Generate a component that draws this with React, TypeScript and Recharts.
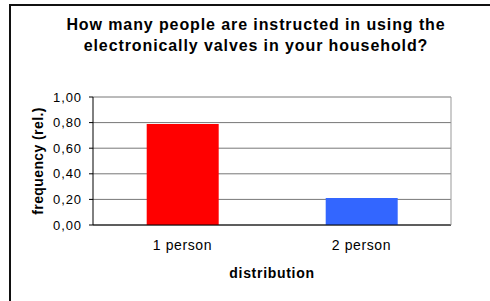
import { BarChart, Bar, Cell, XAxis, YAxis, CartesianGrid } from "recharts";

const categories = ["1 person", "2 person"];
const frequency = [0.79, 0.21];
const barColors = ["#FF0000", "#3366FF"];
const yTicks = [0, 0.2, 0.4, 0.6, 0.8, 1];
const edgeTicks = [0, 1, 2];

const data = categories.map((name, i) => ({ name, value: frequency[i] }));

const FONT = '"Liberation Sans", Arial, sans-serif';

const fmt = (v: number) => v.toFixed(2).replace(".", ",");

// rotated y-axis title, centred on the plot height
const YTitle = (props: any) => {
  const vb = props.viewBox;
  const x = vb.x + 29;
  const y = vb.y + vb.height / 2;
  return (
    <text
      x={x}
      y={y}
      transform={`rotate(-90, ${x}, ${y})`}
      textAnchor="middle"
      dominantBaseline="central"
      fontFamily={FONT}
      fontWeight="bold"
      fontSize={14}
      letterSpacing={0.4}
      fill="#000"
    >
      frequency (rel.)
    </text>
  );
};

export default function App() {
  return (
    <div style={{ position: "absolute", left: 0, top: 0, width: 490, height: 301, overflow: "hidden", background: "#fff" }}>
      <div
        style={{
          position: "absolute",
          left: 9,
          top: 4,
          width: 600,
          height: 400,
          borderLeft: "2px solid #111",
          borderTop: "2px solid #111",
        }}
      />
      <div
        style={{
          position: "absolute",
          left: 0,
          top: 14,
          width: 512,
          textAlign: "center",
          fontFamily: FONT,
          fontWeight: "bold",
          fontSize: 16,
          lineHeight: "21px",
          letterSpacing: "0.9px",
          color: "#000",
        }}
      >
        How many people are instructed in using the
        <br />
        electronically valves in your household?
      </div>
      <div style={{ position: "absolute", left: 0, top: 0 }}>
        <BarChart
          width={490}
          height={301}
          data={data}
          barCategoryGap="30%"
          margin={{ top: 97, right: 38, bottom: 19, left: 9 }}
        >
          <CartesianGrid vertical={false} stroke="#777" xAxisId="cat" yAxisId="l" />
          <XAxis
            xAxisId="edge"
            type="number"
            domain={[0, 2]}
            ticks={edgeTicks}
            allowDataOverflow
            height={1}
            axisLine={false}
            tick={false}
            tickLine={{ stroke: "#000" }}
            tickSize={4}
          />
          <XAxis
            xAxisId="cat"
            dataKey="name"
            height={56}
            tickLine={false}
            axisLine={{ stroke: "#000" }}
            tickMargin={9}
            tick={{ fontFamily: FONT, fontSize: 14, fill: "#000", letterSpacing: 0.6 }}
            label={{
              value: "distribution",
              position: "insideBottom",
              offset: 3,
              fontFamily: FONT,
              fontWeight: "bold",
              fontSize: 14,
              letterSpacing: 0.7,
              fill: "#000",
            }}
          />
          <YAxis
            yAxisId="l"
            width={84}
            domain={[0, 1]}
            ticks={yTicks}
            tickFormatter={fmt}
            tickSize={4}
            tickMargin={7}
            axisLine={{ stroke: "#000" }}
            tickLine={{ stroke: "#000" }}
            tick={{ fontFamily: FONT, fontSize: 13, fill: "#000", letterSpacing: 0.9 }}
            label={<YTitle />}
          />
          <YAxis
            yAxisId="r"
            orientation="right"
            width={1}
            domain={[0, 1]}
            ticks={yTicks}
            tick={false}
            tickLine={false}
            axisLine={{ stroke: "#999" }}
          />
          <Bar dataKey="value" xAxisId="cat" yAxisId="l" isAnimationActive={false}>
            {data.map((d, i) => (
              <Cell key={d.name} fill={barColors[i]} />
            ))}
          </Bar>
        </BarChart>
      </div>
    </div>
  );
}
